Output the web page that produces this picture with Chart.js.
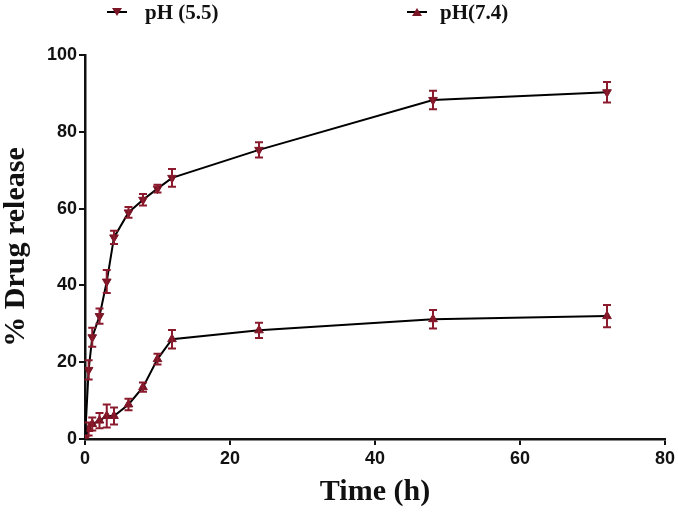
<!DOCTYPE html>
<html>
<head>
<meta charset="utf-8">
<script src="https://cdn.jsdelivr.net/npm/chart.js@4"></script>
<style>
	html, body { margin: 0; padding: 0; background: #fff; }
	#wrap { position: relative; width: 678px; height: 513px; }
	#myChart { position: absolute; left: 0; top: 0; }
	.leg { position: absolute; top: 0; height: 24px; font: bold 21px "Liberation Serif", "Times New Roman", serif; color: #111; line-height: 24px; white-space: nowrap; }
	.leg svg { position: absolute; top: 2px; }
</style>
</head>
<body>
<div id="wrap">
	<canvas id="myChart" width="678" height="513"></canvas>
	<div class="leg" style="left:105px;">
		<svg width="24" height="20"><line x1="2" y1="10" x2="22" y2="10" stroke="#000" stroke-width="2"/><polygon points="7,6 17,6 12,14" fill="#7a1526"/></svg>
		<span style="position:absolute; left:40px;">pH (5.5)</span>
	</div>
	<div class="leg" style="left:405px;">
		<svg width="24" height="20"><line x1="2" y1="10" x2="22" y2="10" stroke="#000" stroke-width="2"/><polygon points="12,6 17,14 7,14" fill="#7a1526"/></svg>
		<span style="position:absolute; left:35px;">pH(7.4)</span>
	</div>
</div>
<script>
	// Thời gian (giờ)
	const times = [0, 0.5, 1, 2, 3, 4, 6, 8, 10, 12, 24, 48, 72];

	// pH 5.5
	const release55 = [0, 18, 26.5, 32, 41, 52.5, 59, 62.3, 65.2, 68, 75.3, 88.3, 90.3];
	const err55 = [0, 2.5, 2.5, 2, 3, 1.7, 1.4, 1.5, 1, 2.3, 2, 2.4, 2.7];

	// pH 7.4
	const release74 = [0, 2.6, 3.9, 4.8, 6, 6, 9, 13.5, 20.8, 26, 28.3, 31.2, 32];
	const err74 = [0, 1.7, 1.7, 2, 3, 2.2, 1.5, 1.2, 1.4, 2.4, 2, 2.4, 2.9];

	const xTicks = [0, 20, 40, 60, 80];
	const yTicks = [0, 20, 40, 60, 80, 100];

	function toPoints(values) {
		return times.map((t, i) => ({ x: t, y: values[i] }));
	}

	// Vẽ thanh sai số
	const errorBars = {
		id: 'errorBars',
		afterDatasetsDraw(chart) {
			const ctx = chart.ctx;
			const xs = chart.scales.x;
			const ys = chart.scales.y;
			chart.data.datasets.forEach(ds => {
				if (!ds.errors) return;
				ctx.save();
				ctx.strokeStyle = '#8b1a2c';
				ctx.lineWidth = 2;
				ds.data.forEach((p, i) => {
					const e = ds.errors[i];
					if (!e) return;
					const px = xs.getPixelForValue(p.x);
					const top = ys.getPixelForValue(p.y + e);
					const bot = ys.getPixelForValue(p.y - e);
					ctx.beginPath();
					ctx.moveTo(px, top);
					ctx.lineTo(px, bot);
					ctx.moveTo(px - 4, top);
					ctx.lineTo(px + 4, top);
					ctx.moveTo(px - 4, bot);
					ctx.lineTo(px + 4, bot);
					ctx.stroke();
				});
				ctx.restore();
			});
		}
	};

	var ctx = document.getElementById('myChart').getContext('2d');
	new Chart(ctx, {
		type: 'scatter',
		data: {
			datasets: [
				{
					label: 'pH (5.5)',
					data: toPoints(release55),
					errors: err55,
					showLine: true,
					borderColor: '#000',
					borderWidth: 2,
					pointStyle: 'triangle',
					rotation: 180,
					pointRadius: 5,
					pointBackgroundColor: '#7a1526',
					pointBorderColor: '#7a1526',
					pointBorderWidth: 1,
					tension: 0,
				},
				{
					label: 'pH(7.4)',
					data: toPoints(release74),
					errors: err74,
					showLine: true,
					borderColor: '#000',
					borderWidth: 2,
					pointStyle: 'triangle',
					pointRadius: 5,
					pointBackgroundColor: '#7a1526',
					pointBorderColor: '#7a1526',
					pointBorderWidth: 1,
					tension: 0,
				},
			],
		},
		options: {
			responsive: false,
			animation: false,
			layout: { padding: { left: 0, right: 13, top: 55, bottom: 0 } },
			plugins: {
				legend: { display: false },
				tooltip: { enabled: false },
			},
			scales: {
				x: {
					type: 'linear',
					min: 0,
					max: 80,
					afterBuildTicks: s => { s.ticks = xTicks.map(v => ({ value: v })); },
					afterFit: s => { s.height = 74; s.paddingLeft = 0; s.paddingRight = 0; },
					border: { color: '#111', width: 2.5 },
					grid: { drawOnChartArea: false, color: '#111', lineWidth: 2, tickLength: 6 },
					ticks: { color: '#111', padding: 3, font: { family: 'Liberation Sans', weight: 'bold', size: 18 } },
					title: {
						display: true,
						text: 'Time (h)',
						color: '#111',
						padding: { top: 0, bottom: 4 },
						font: { family: 'Liberation Serif', weight: 'bold', size: 30, lineHeight: 1.1 },
					},
				},
				y: {
					min: 0,
					max: 100,
					afterBuildTicks: s => { s.ticks = yTicks.map(v => ({ value: v })); },
					afterFit: s => { s.width = 85; s.paddingTop = 0; s.paddingBottom = 0; },
					border: { color: '#111', width: 2.5 },
					grid: { drawOnChartArea: false, color: '#111', lineWidth: 2, tickLength: 6 },
					ticks: { color: '#111', padding: 2, font: { family: 'Liberation Sans', weight: 'bold', size: 18 } },
					title: {
						display: true,
						text: '% Drug release',
						color: '#111',
						padding: 0,
						font: { family: 'Liberation Serif', weight: 'bold', size: 30, lineHeight: 1.1 },
					},
				},
			},
		},
		plugins: [errorBars],
	});
</script>
</body>
</html>
